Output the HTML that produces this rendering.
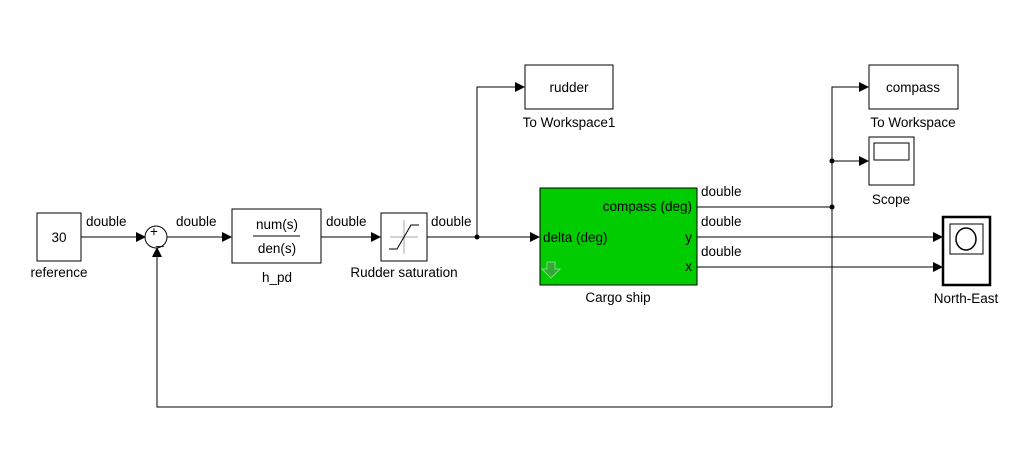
<!DOCTYPE html>
<html><head><style>
body{margin:0;background:#fff}
svg text{font-family:"Liberation Sans",Arial,sans-serif;font-size:13.5px;fill:#000}
</style></head><body>
<svg width="1035" height="468" viewBox="0 0 1035 468" xmlns="http://www.w3.org/2000/svg">
<defs><marker id="a" markerWidth="10" markerHeight="10" refX="9" refY="5" orient="auto" markerUnits="userSpaceOnUse"><path d="M0,0 L10,5 L0,10z" fill="#000"/></marker></defs>
<g stroke="#000" stroke-width="1" fill="none">
<line x1="81" y1="237" x2="145" y2="237" marker-end="url(#a)"/>
<line x1="167" y1="237" x2="231" y2="237" marker-end="url(#a)"/>
<line x1="321" y1="237" x2="380" y2="237" marker-end="url(#a)"/>
<line x1="427" y1="237" x2="539" y2="237" marker-end="url(#a)"/>
<polyline points="477,237 477,87 524,87" marker-end="url(#a)"/>
<line x1="697" y1="207" x2="832" y2="207"/>
<polyline points="832,407 832,87 868,87" marker-end="url(#a)"/>
<line x1="832" y1="161" x2="868" y2="161" marker-end="url(#a)"/>
<line x1="697" y1="237" x2="942" y2="237" marker-end="url(#a)"/>
<line x1="697" y1="267" x2="942" y2="267" marker-end="url(#a)"/>
<polyline points="832,407 157,407 157,248" marker-end="url(#a)"/>
</g>
<g fill="#000"><circle cx="477" cy="237" r="2.5"/><circle cx="832" cy="207" r="2.5"/><circle cx="832" cy="161" r="2.5"/></g>
<g stroke="#000" fill="#fff">
<rect x="37" y="213" width="44" height="48"/>
<circle cx="156" cy="237" r="11"/>
<rect x="232" y="209" width="89" height="54"/>
<rect x="381" y="213" width="46" height="48"/>
<rect x="525" y="65" width="88" height="44"/>
<rect x="869" y="65" width="89" height="44"/>
<rect x="869" y="137" width="45" height="48"/>
<rect x="874" y="143" width="35" height="17"/>
<rect x="943" y="217" width="47" height="68" stroke-width="2.5"/>
<rect x="950" y="224" width="33" height="30"/>
<rect x="540" y="188" width="157" height="97" fill="#00cc00"/>
</g>
<ellipse cx="966" cy="239" rx="10" ry="11" stroke="#000" stroke-width="1.5" fill="none"/>
<line x1="253" y1="236" x2="300" y2="236" stroke="#000"/>
<g stroke="#aaa"><line x1="390" y1="237" x2="418" y2="237"/><line x1="404" y1="220" x2="404" y2="254"/></g>
<polyline points="389,249 397,249 411,225 419,225" stroke="#000" fill="none"/>
<path d="M547,262 h8 v7 h5 l-9,9 l-9,-9 h5z" fill="#33a833" stroke="#7bd87b"/>
<text x="59" y="242" text-anchor="middle">30</text>
<text x="59" y="277" text-anchor="middle">reference</text>
<text x="150" y="236" font-size="9">+</text>
<text x="156" y="244" font-size="9">_</text>
<text x="277" y="229" text-anchor="middle">num(s)</text>
<text x="277" y="253" text-anchor="middle">den(s)</text>
<text x="277" y="282" text-anchor="middle">h_pd</text>
<text x="404" y="277" text-anchor="middle">Rudder saturation</text>
<text x="569" y="92" text-anchor="middle">rudder</text>
<text x="569" y="127" text-anchor="middle">To Workspace1</text>
<text x="913" y="92" text-anchor="middle">compass</text>
<text x="913" y="127" text-anchor="middle">To Workspace</text>
<text x="891" y="204" text-anchor="middle">Scope</text>
<text x="966" y="303" text-anchor="middle">North-East</text>
<text x="618" y="302" text-anchor="middle">Cargo ship</text>
<text x="692" y="211" text-anchor="end">compass (deg)</text>
<text x="543" y="242">delta (deg)</text>
<text x="692" y="242" text-anchor="end">y</text>
<text x="692" y="271" text-anchor="end">x</text>
<text x="86" y="226">double</text>
<text x="176" y="226">double</text>
<text x="326" y="226">double</text>
<text x="431" y="226">double</text>
<text x="701" y="196">double</text>
<text x="701" y="226">double</text>
<text x="701" y="256">double</text>
</svg>
</body></html>
